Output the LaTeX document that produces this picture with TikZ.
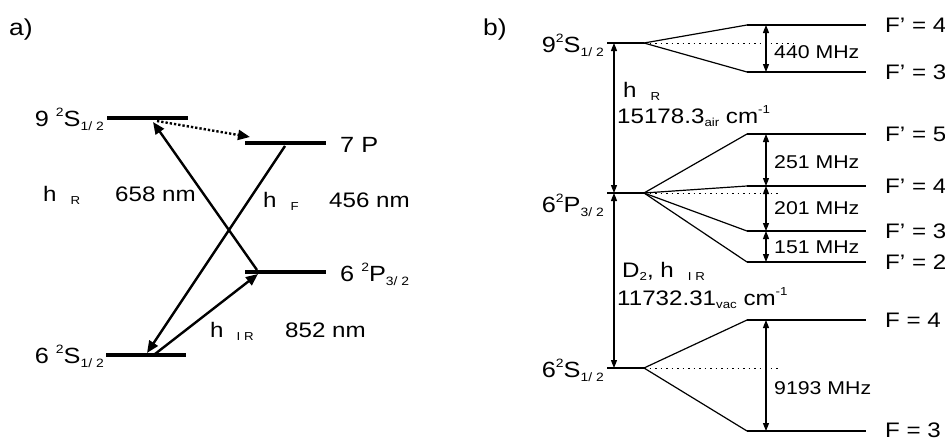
\documentclass[tikz,border=0pt]{standalone}
\usepackage{fontspec}
\setmainfont{Liberation Sans}[FakeStretch=1.15]
\usetikzlibrary{arrows.meta}
\newcommand\dn[1]{\raisebox{-0.35ex}{\scalebox{0.55}{#1}}}
\newcommand\up[1]{\raisebox{0.85ex}{\scalebox{0.55}{#1}}}
\newcommand\fs[1]{\fontsize{#1}{#1}\selectfont}
\begin{document}
\begin{tikzpicture}[x=1pt,y=-1pt,
  lvlA/.style={line width=3.5pt},
  arrA/.style={line width=2.4pt,-{Triangle[length=12pt,width=10pt]}},
  dotA/.style={line width=2.4pt,dash pattern=on 2.3pt off 2pt,-{Triangle[length=12pt,width=10pt]}},
  lvlB/.style={line width=1.9pt},
  fan/.style={line width=1.2pt},
  dotB/.style={line width=1pt,dash pattern=on 1.5pt off 4pt},
  dbl/.style={line width=1.1pt,{Triangle[length=8pt,width=6pt]}-{Triangle[length=8pt,width=6pt]}},
  lbl/.style={inner sep=0pt,font=\fs{23}},
  big/.style={inner sep=0pt,font=\fs{22}},
  mid/.style={inner sep=0pt,font=\fs{21}},
  sml/.style={inner sep=0pt,font=\fs{18.5}}]
\useasboundingbox (0,0) rectangle (945,439);

% ---------- panel a ----------
\node[lbl,anchor=base west] (la) at (9,35) {a)};
\coordinate (s9L) at (107,118); \coordinate (s9R) at (188,118);
\coordinate (p7L) at (245,143); \coordinate (p7R) at (326,143);
\coordinate (p6L) at (245,272); \coordinate (p6R) at (326,272);
\coordinate (s6L) at (106,355); \coordinate (s6R) at (186,355);
\draw[lvlA] (s9L) -- (s9R);
\draw[lvlA] (p7L) -- (p7R);
\draw[lvlA] (p6L) -- (p6R);
\draw[lvlA] (s6L) -- (s6R);
\node[big,anchor=base east] (t9S) at (104,126) {9 \up{2}S\dn{1/ 2}};
\node[big,anchor=base west] (t7P) at (340,152) {7 P};
\node[big,anchor=base west] (t6P) at (340,281) {6 \up{2}P\dn{3/ 2}};
\node[big,anchor=base east] (t6S) at (104,363) {6 \up{2}S\dn{1/ 2}};

\coordinate (a1s) at (257,270); \coordinate (a1e) at (153,122);
\coordinate (a2s) at (285,146); \coordinate (a2e) at (147,353);
\coordinate (a3s) at (155,354); \coordinate (a3e) at (258,274);
\coordinate (a4s) at (157,121); \coordinate (a4e) at (250,137);
\draw[arrA] (a1s) -- (a1e);
\draw[arrA] (a2s) -- (a2e);
\draw[arrA] (a3s) -- (a3e);
\draw[dotA] (a4s) -- (a4e);

\node[mid,anchor=base west] (hR) at (43,201) {h\hspace{14pt}\dn{R}};
\node[mid,anchor=base west] (n658) at (115,201) {658 nm};
\node[mid,anchor=base west] (hF) at (263,207) {h\hspace{14pt}\dn{F}};
\node[mid,anchor=base west] (n456) at (329,207) {456 nm};
\node[mid,anchor=base west] (hIR) at (210,337) {h\hspace{13pt}\dn{I R}};
\node[mid,anchor=base west] (n852) at (285,337) {852 nm};

% ---------- panel b ----------
\node[lbl,anchor=base west] (lb) at (483,35) {b)};
\coordinate (S9a) at (607,43); \coordinate (S9b) at (644,43);
\coordinate (P6a) at (607,193); \coordinate (P6b) at (644,193);
\coordinate (S6a) at (607,368); \coordinate (S6b) at (644,368);
\draw[lvlB] (S9a) -- (S9b);
\draw[lvlB] (P6a) -- (P6b);
\draw[lvlB] (S6a) -- (S6b);
\node[big,anchor=base east] (u9S) at (604,52) {9\up{2}S\dn{1/ 2}};
\node[big,anchor=base east] (u6P) at (604,212) {6\up{2}P\dn{3/ 2}};
\node[big,anchor=base east] (u6S) at (604,377) {6\up{2}S\dn{1/ 2}};

% hyperfine levels
\foreach \n/\y in {f4/25, f3/72, g5/134, g4/186, g3/231, g2/262, h4/320, h3/431}{
  \coordinate (\n a) at (747,\y); \coordinate (\n b) at (866,\y);
  \draw[lvlB] (\n a) -- (\n b);}
\draw[fan] (S9b) -- (f4a); \draw[fan] (S9b) -- (f3a);
\draw[fan] (P6b) -- (g5a); \draw[fan] (P6b) -- (g4a);
\draw[fan] (P6b) -- (g3a); \draw[fan] (P6b) -- (g2a);
\draw[fan] (S6b) -- (h4a); \draw[fan] (S6b) -- (h3a);
\coordinate (d1) at (795,43); \coordinate (d2) at (780,193); \coordinate (d3) at (780,368);
\draw[dotB] (S9b) -- (d1);
\draw[dotB] (P6b) -- (d2);
\draw[dotB] (S6b) -- (d3);

\node[mid,anchor=west] (F4a) at (885,25) {F’ = 4};
\node[mid,anchor=west] (F3a) at (885,72) {F’ = 3};
\node[mid,anchor=west] (F5b) at (885,134) {F’ = 5};
\node[mid,anchor=west] (F4b) at (885,186) {F’ = 4};
\node[mid,anchor=west] (F3b) at (885,231) {F’ = 3};
\node[mid,anchor=west] (F2b) at (885,262) {F’ = 2};
\node[mid,anchor=west] (F4c) at (885,320) {F = 4};
\node[mid,anchor=base west] (F3c) at (885,437) {F = 3};

% splittings
\coordinate (m1) at (766,25); \coordinate (m2) at (766,72);
\coordinate (m3) at (766,134); \coordinate (m4) at (766,186);
\coordinate (m5) at (766,231); \coordinate (m6) at (766,262);
\coordinate (m7) at (766,320); \coordinate (m8) at (766,431);
\draw[dbl] (m1) -- (m2);
\draw[dbl] (m3) -- (m4);
\draw[dbl] (m4) -- (m5);
\draw[dbl] (m5) -- (m6);
\draw[dbl] (m7) -- (m8);
\node[sml,anchor=west] (z440) at (774,52) {440 MHz};
\node[sml,anchor=west] (z251) at (774,162) {251 MHz};
\node[sml,anchor=west] (z201) at (774,208) {201 MHz};
\node[sml,anchor=west] (z151) at (774,247) {151 MHz};
\node[sml,anchor=west] (z9193) at (774,388) {9193 MHz};

% transitions
\coordinate (v1) at (614,43); \coordinate (v2) at (614,193); \coordinate (v3) at (614,368);
\draw[dbl] (v1) -- (v2);
\draw[dbl] (v2) -- (v3);
\node[mid,anchor=base west] (thR) at (623,97) {h\hspace{14pt}\dn{R}};
\node[mid,anchor=base west] (tw1) at (617,123) {15178.3\dn{air} cm\up{-1}};
\node[mid,anchor=base west] (thIR) at (622,277) {D\dn{2}, h\hspace{14pt}\dn{I R}};
\node[mid,anchor=base west] (tw2) at (617,305) {11732.31\dn{vac} cm\up{-1}};
\end{tikzpicture}
\end{document}
